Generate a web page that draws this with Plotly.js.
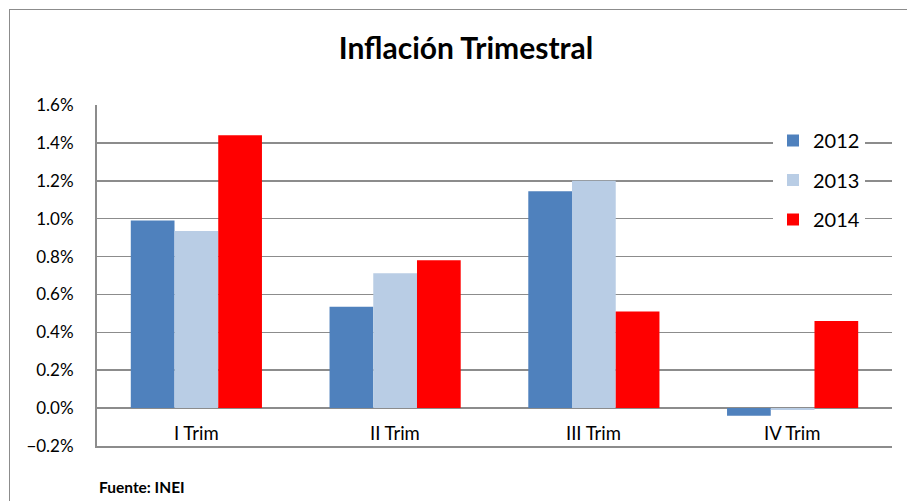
<!DOCTYPE html>
<html>
<head>
<meta charset="utf-8">
<script src="https://cdn.plot.ly/plotly-3.0.1.min.js"></script>
<style>
html,body{margin:0;padding:0;background:#fff;overflow:hidden;}
#frame{position:absolute;left:9px;top:9px;width:1000px;height:1000px;border:1.5px solid #8c8c8c;box-sizing:border-box;}
#chart{position:absolute;left:0;top:0;width:907px;height:501px;}
</style>
</head>
<body>
<div id="frame"></div>
<div id="chart"></div>
<script>
const categories = ["I Trim", "II Trim", "III Trim", "IV Trim"];
const seriesNames = ["2012", "2013", "2014"];
const values2012 = [0.99, 0.535, 1.145, -0.04];
const values2013 = [0.935, 0.712, 1.20, -0.01];
const values2014 = [1.44, 0.781, 0.51, 0.46];
const seriesColors = ["#4F81BD", "#B9CDE5", "#FF0000"];
const titleText = "Inflación Trimestral";
const sourceText = "Fuente: INEI";

const FONT = "Lato, 'Open Sans', sans-serif";
const allValues = [values2012, values2013, values2014];

const traces = allValues.map((vals, i) => ({
  type: "bar",
  name: seriesNames[i],
  x: categories,
  y: vals,
  legendgroup: "g" + i,
  marker: {color: seriesColors[i], line: {width: 0}},
  hoverinfo: "x+y+name"
}));

const annotations = categories.map(c => ({
  x: c, y: -0.132, xref: "x", yref: "y",
  text: c, showarrow: false,
  font: {family: FONT, size: 18.5, color: "#000"},
  xanchor: "center", yanchor: "middle"
}));
annotations.push({
  x: 0, y: (446-487)/341, xref: "paper", yref: "paper",
  text: "<b>" + sourceText + "</b>", showarrow: false,
  font: {family: FONT, size: 15.5, color: "#000"},
  xanchor: "left", yanchor: "middle"
});

const layout = {
  width: 907, height: 501,
  margin: {l: 97, r: 15, t: 105, b: 55, pad: 0},
  paper_bgcolor: "rgba(0,0,0,0)",
  plot_bgcolor: "rgba(0,0,0,0)",
  font: {family: FONT, color: "#000"},
  title: {
    text: "<b>" + titleText + "</b>",
    font: {family: FONT, size: 30, color: "#000"},
    xref: "container", x: 466/907, xanchor: "center",
    yref: "container", y: 1 - 48/501, yanchor: "middle"
  },
  barmode: "group",
  bargap: 0.34,
  bargroupgap: 0,
  xaxis: {
    showticklabels: false,
    ticks: "",
    showgrid: false,
    showline: true, linecolor: "#8c8c8c", linewidth: 2,
    zeroline: false
  },
  yaxis: {
    range: [-0.2, 1.6],
    dtick: 0.2, tick0: 0,
    tickformat: ".1f", ticksuffix: "%",
    ticks: "",
    ticklabelstandoff: 18,
    tickfont: {family: FONT, size: 17, color: "#000"},
    showgrid: true, gridcolor: "#8c8c8c", gridwidth: 1.6,
    zeroline: true, zerolinecolor: "#8c8c8c", zerolinewidth: 2,
    showline: true, linecolor: "#8c8c8c", linewidth: 2
  },
  legend: {
    x: (773-97)/795, xanchor: "left",
    y: (446-121)/341, yanchor: "top",
    bgcolor: "#fff",
    borderwidth: 0,
    traceorder: "grouped",
    tracegroupgap: 10.5,
    font: {family: FONT, size: 20, color: "#000"},
    itemwidth: 30
  },
  annotations: annotations,
  showlegend: true
};

Plotly.newPlot("chart", traces, layout, {displayModeBar: false, staticPlot: true});
</script>
</body>
</html>
